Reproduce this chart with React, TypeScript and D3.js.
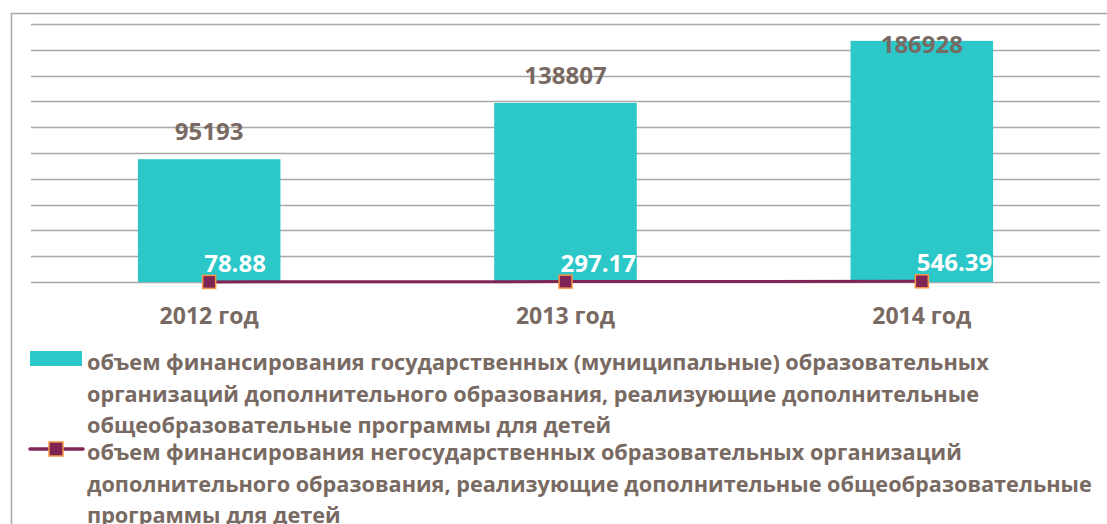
import React from 'react';
import * as d3 from 'd3';

const years = ['2012 год', '2013 год', '2014 год'];
const stateFunding = [95193, 138807, 186928];
const privateFunding = [78.88, 297.17, 546.39];
const yTicks = d3.range(0, 200001, 20000);
const legendBar = [
  'объем финансирования государственных (муниципальные) образовательных',
  'организаций дополнительного образования, реализующие дополнительные',
  'общеобразовательные программы для детей',
];
const legendLine = [
  'объем финансирования негосударственных образовательных организаций',
  'дополнительного образования, реализующие дополнительные общеобразовательные',
  'программы для детей',
];

const W = 1107;
const H = 524;
const margin = { top: 24, left: 31, right: 7 };
const plotBottom = 282;

const TEXT = '#786a62';
const TEAL = '#2bc7c9';
const PLUM = '#7f2556';
const ORANGE = '#f79646';
const GRID = '#a9a9a9';
const FONT = '"Open Sans", sans-serif';

export default function App() {
  const x = d3.scaleBand().domain(years).range([margin.left, W - margin.right])
    .paddingInner(0.6).paddingOuter(0.3);
  const y = d3.scaleLinear().domain([0, 200000]).range([plotBottom, margin.top]);

  const cx = (i) => x(years[i]) + x.bandwidth() / 2;
  const line = d3.line().x((d, i) => cx(i)).y((d) => y(d));

  return (
    <svg width={W} height={H} style={{ position: 'absolute', left: 0, top: 0 }} fontFamily={FONT}>
      <rect width={W} height={H} fill="#fff" />
      {/* outer frame */}
      <path d={`M11.5,${H} V13.5 H${W}`} fill="none" stroke={GRID} strokeWidth={1.5} />

      {/* gridlines */}
      {yTicks.map((t) => (
        <line key={t} x1={margin.left} x2={W - margin.right} y1={Math.round(y(t)) + 0.5} y2={Math.round(y(t)) + 0.5}
          stroke={GRID} strokeWidth={1.3} />
      ))}

      {/* bars */}
      {stateFunding.map((v, i) => (
        <rect key={i} x={x(years[i])} y={y(v)} width={x.bandwidth()} height={plotBottom - y(v)} fill={TEAL} />
      ))}

      {/* bar labels */}
      {stateFunding.map((v, i) => (
        <text key={i} x={cx(i)} y={Math.max(y(v) - 19, margin.top + 29)} textAnchor="middle"
          fontSize={24} fontWeight="bold" fill={TEXT}>{v}</text>
      ))}

      {/* line series */}
      <path d={line(privateFunding)} fill="none" stroke={PLUM} strokeWidth={3} />
      {privateFunding.map((v, i) => (
        <rect key={i} x={cx(i) - 6.5} y={y(v) - 6.5} width={13} height={13} fill={PLUM} stroke={ORANGE} strokeWidth={1.5} />
      ))}
      {privateFunding.map((v, i) => (
        <text key={i} x={cx(i) - 5} y={y(v) - 10} fontSize={24} fontWeight="bold" fill="#fff">{v.toFixed(2)}</text>
      ))}

      {/* x axis labels */}
      {years.map((yr) => (
        <text key={yr} x={x(yr) + x.bandwidth() / 2} y={324} textAnchor="middle" fontSize={23} fontWeight="bold" fill={TEXT}>{yr}</text>
      ))}

      {/* legend */}
      <rect x={30} y={351} width={52} height={15} fill={TEAL} />
      {legendBar.map((s, i) => (
        <text key={i} x={87} y={370 + i * 31.5} fontSize={21.7} fontWeight="bold" fill={TEXT}>{s}</text>
      ))}
      <line x1={30} x2={83} y1={449} y2={449} stroke={PLUM} strokeWidth={3.5} strokeLinecap="round" />
      <rect x={49} y={442} width={14} height={14} fill={PLUM} stroke={ORANGE} strokeWidth={1.5} />
      {legendLine.map((s, i) => (
        <text key={i} x={87} y={460 + i * 31.5} fontSize={21.7} fontWeight="bold" fill={TEXT}>{s}</text>
      ))}
    </svg>
  );
}
